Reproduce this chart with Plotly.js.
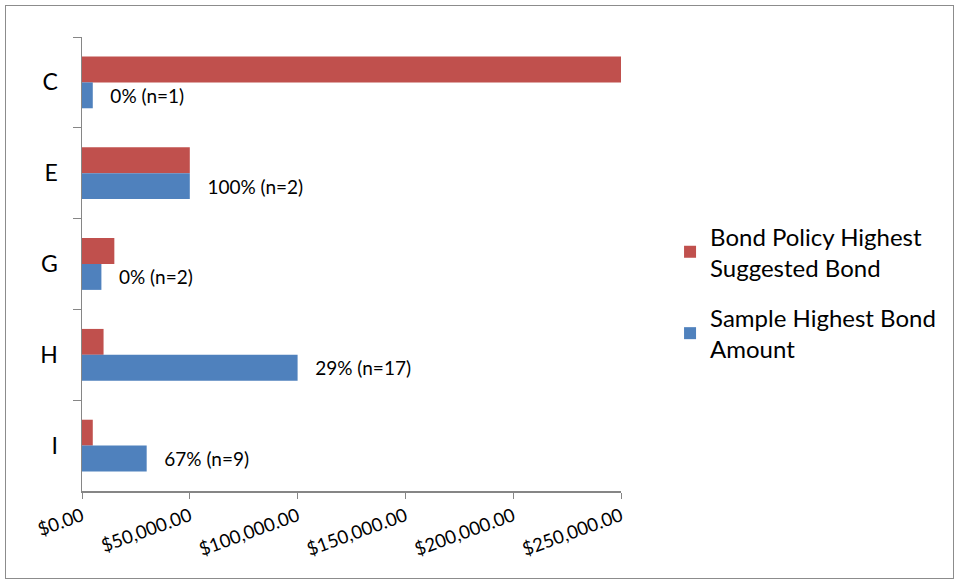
<!DOCTYPE html>
<html>
<head>
<meta charset="utf-8">
<script src="https://cdn.plot.ly/plotly-3.0.1.min.js"></script>
<style>
  body { margin: 0; background: #fff; }
  #chart { width: 956px; height: 582px; }
  #frame { position: absolute; left: 5px; top: 5px; width: 947px; height: 572px; border: 1px solid #8c8c8c; pointer-events: none; }
</style>
</head>
<body>
<div id="chart"></div>
<div id="frame"></div>
<script>
const categories = ["C", "E", "G", "H", "I"];
const policyValues = [250000, 50000, 15000, 10000, 5000];
const sampleValues = [5000, 50000, 9000, 100000, 30000];
const sampleLabels = ["0% (n=1)", "100% (n=2)", "0% (n=2)", "29% (n=17)", "67% (n=9)"];
const seriesNames = ["Bond Policy Highest<br>Suggested Bond", "Sample Highest Bond<br>Amount"];

const pad = "\u00a0\u00a0\u00a0";
const font = "Lato, 'Open Sans', sans-serif";

const traces = [
  {
    type: "bar", orientation: "h",
    name: seriesNames[0], legendgroup: "a",
    y: categories, x: policyValues,
    marker: { color: "#C0504D" },
    hoverinfo: "x+y"
  },
  {
    type: "bar", orientation: "h",
    name: seriesNames[1], legendgroup: "b",
    y: categories, x: sampleValues,
    marker: { color: "#4F81BD" },
    text: sampleLabels.map(s => pad + s),
    textposition: "outside",
    textfont: { family: font, size: 19, color: "#000" },
    cliponaxis: false,
    hoverinfo: "x+y"
  }
];

const layout = {
  width: 956, height: 582,
  margin: { l: 82, r: 335, t: 37, b: 91 },
  paper_bgcolor: "#fff", plot_bgcolor: "#fff",
  barmode: "group",
  bargap: 0.43,
  bargroupgap: 0,
  font: { family: font, color: "#000" },
  showlegend: true,
  legend: {
    x: 1.091, y: 0.61, xanchor: "left", yanchor: "top",
    traceorder: "grouped",
    font: { family: font, size: 24, color: "#000" },
    itemwidth: 30,
    tracegroupgap: 16
  },
  xaxis: {
    range: [0, 250000],
    tickvals: [0, 50000, 100000, 150000, 200000, 250000],
    tickformat: "$,.2f",
    tickangle: -20,
    ticks: "outside", ticklen: 6, tickcolor: "#868686",
    showline: true, linecolor: "#868686", linewidth: 1.5,
    showgrid: false, zeroline: false,
    tickfont: { family: font, size: 18.5, color: "#000" }
  },
  yaxis: {
    type: "category",
    categoryarray: categories,
    autorange: "reversed",
    ticks: "outside", ticklen: 8, tickcolor: "#868686",
    tickson: "boundaries",
    ticklabelstandoff: 18,
    showline: true, linecolor: "#868686", linewidth: 1.5,
    showgrid: false, zeroline: false,
    tickfont: { family: font, size: 23, color: "#000" }
  }
};

Plotly.newPlot("chart", traces, layout, { displayModeBar: false, staticPlot: true });
</script>
</body>
</html>
